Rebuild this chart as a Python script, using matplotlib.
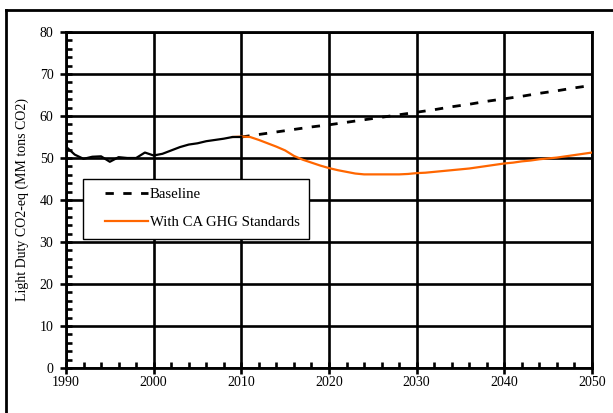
import matplotlib
matplotlib.use("Agg")
import matplotlib.pyplot as plt
from matplotlib.lines import Line2D
from matplotlib.ticker import MultipleLocator
from matplotlib.legend_handler import HandlerLine2D

plt.rcParams['font.family'] = ['Liberation Serif', 'DejaVu Serif']

# Historical emissions (MM tons CO2)
hist_years = list(range(1990, 2011))
hist_vals = [52.7, 50.8, 49.8, 50.3, 50.4, 49.1, 50.2, 50.0, 50.0, 51.3,
             50.6, 51.0, 51.8, 52.6, 53.2, 53.5, 54.0, 54.3, 54.6, 55.0, 55.0]

# Baseline projection
base_years = list(range(2010, 2051, 2))
base_vals = [55.0, 55.6, 56.2, 56.8, 57.4, 57.9, 58.5, 59.1, 59.7, 60.3, 60.9,
             61.5, 62.2, 62.8, 63.5, 64.1, 64.7, 65.4, 66.0, 66.7, 67.3]

# Projection with California GHG standards
std_years = list(range(2009, 2051))
std_vals = [55.0, 55.1, 55.0, 54.3, 53.5, 52.7, 51.8, 50.5, 49.6, 48.9,
            48.2, 47.6, 47.1, 46.7, 46.3, 46.1, 46.1, 46.1, 46.1, 46.1,
            46.2, 46.4, 46.5, 46.7, 46.9, 47.1, 47.3, 47.5, 47.8, 48.1,
            48.4, 48.7, 48.9, 49.2, 49.4, 49.7, 49.9, 50.1, 50.4, 50.7,
            51.0, 51.3]

x_ticks = [1990, 2000, 2010, 2020, 2030, 2040, 2050]
y_ticks = [0, 10, 20, 30, 40, 50, 60, 70, 80]


class IndentedLine(HandlerLine2D):
    """Legend line handler that leaves extra blank space before the sample."""
    indent = 9.0

    def create_artists(self, legend, orig_handle, xdescent, ydescent,
                       width, height, fontsize, trans):
        return super().create_artists(legend, orig_handle,
                                      xdescent - self.indent, ydescent,
                                      width - self.indent, height,
                                      fontsize, trans)


W, H = 613, 413
fig = plt.figure(figsize=(W / 100, H / 100), dpi=100)
ax = fig.add_axes([66 / W, 1 - 368 / H, (592 - 66) / W, (368 - 32) / H])

ax.plot(base_years, base_vals, color='black', lw=2.0, dashes=(3.0, 3.4),
        label='Baseline', zorder=3)
ax.plot(std_years, std_vals, color='#ff6600', lw=1.6,
        label='With CA GHG Standards', zorder=4)
ax.plot(hist_years, hist_vals, color='black', lw=1.6, zorder=5)

ax.set_xlim(1990, 2050)
ax.set_ylim(0, 80)
ax.set_xticks(x_ticks)
ax.set_yticks(y_ticks)
ax.xaxis.set_minor_locator(MultipleLocator(2))
ax.yaxis.set_minor_locator(MultipleLocator(2))
ax.grid(True, which='major', color='black', lw=1.9)
ax.set_axisbelow(True)

for s in ax.spines.values():
    s.set_linewidth(2.0)

ax.tick_params(which='major', direction='inout', length=8, width=1.9,
               labelsize=10, pad=5)
ax.tick_params(which='minor', direction='in', length=4, width=1.9)
ax.tick_params(axis='x', pad=2)

ax.set_ylabel('Light Duty CO2-eq (MM tons CO2)', fontsize=10, labelpad=8)

leg = ax.legend(loc='upper left', bbox_to_anchor=((83 - 66) / (592 - 66),
                (368 - 179) / (368 - 32)),
                fontsize=10.6, frameon=True, fancybox=False, shadow=False,
                borderpad=0.62, labelspacing=1.0, handlelength=3.8,
                handletextpad=0.12, borderaxespad=0,
                handler_map={Line2D: IndentedLine()})
leg.get_frame().set_edgecolor('black')
leg.get_frame().set_linewidth(1.0)
leg.get_frame().set_alpha(1)
leg.set_zorder(10)

# Outer frame around the chart area
fig.add_artist(Line2D([6 / W, 6 / W], [0, 1 - 10 / H], color='black',
                      lw=2.0, transform=fig.transFigure))
fig.add_artist(Line2D([6 / W, 1], [1 - 10 / H, 1 - 10 / H], color='black',
                      lw=2.0, transform=fig.transFigure))

fig.savefig('out.png', dpi=100)
